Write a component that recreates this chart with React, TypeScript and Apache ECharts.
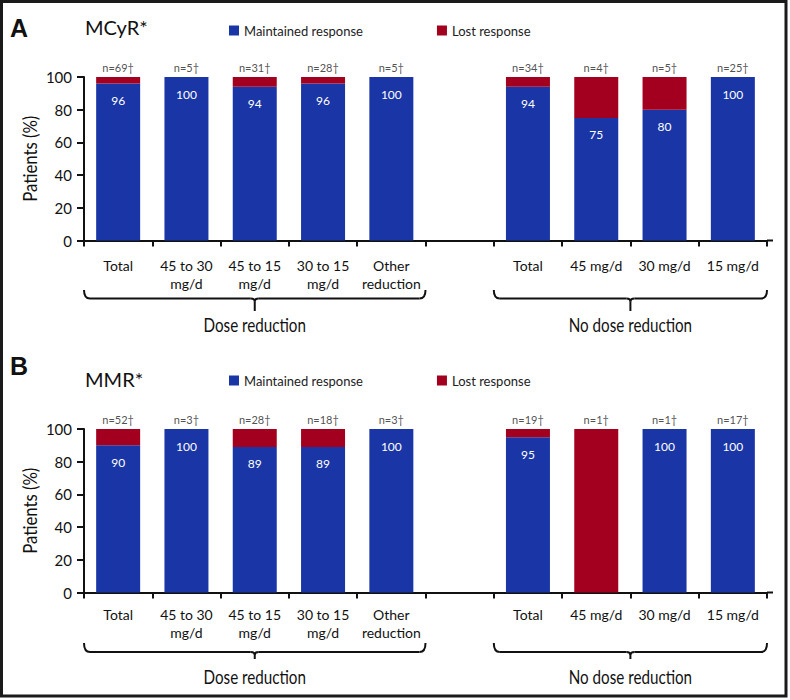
import React, { useEffect, useRef } from "react";
import * as echarts from "echarts";

const CATEGORIES = [
  "Total",
  "45 to 30\nmg/d",
  "45 to 15\nmg/d",
  "30 to 15\nmg/d",
  "Other\nreduction",
  "",
  "Total",
  "45 mg/d",
  "30 mg/d",
  "15 mg/d",
];

const A_MAINTAINED = [96, 100, 94, 96, 100, null, 94, 75, 80, 100];
const A_LOST = [4, 0, 6, 4, 0, null, 6, 25, 20, 0];
const A_N = [69, 5, 31, 28, 5, null, 34, 4, 5, 25];

const B_MAINTAINED = [90, 100, 89, 89, 100, null, 95, 0, 100, 100];
const B_LOST = [10, 0, 11, 11, 0, null, 5, 100, 0, 0];
const B_N = [52, 3, 28, 18, 3, null, 19, 1, 1, 17];

const Y_TICKS = [0, 20, 40, 60, 80, 100];

const BLUE = "#1a36a6";
const RED = "#a3001f";
const INK = "#111111";
const FONT = 'Lato, "Noto Sans", sans-serif';

function totals(m: (number | null)[], l: (number | null)[]) {
  return m.map((v, i) => (v == null ? null : (v as number) + (l[i] as number)));
}

function brace(x0: number, x1: number, axisY: number, dTop: number, dH: number, dTip: number) {
  const yTop = axisY + dTop;
  const yH = axisY + dH;
  const xm = (x0 + x1) / 2;
  const st = { stroke: INK, lineWidth: 2, fill: "none" };
  const r = 6;
  return [
    { type: "bezierCurve", shape: { x1: x0, y1: yTop, x2: x0 + r, y2: yH, cpx1: x0, cpy1: yH }, style: st },
    { type: "line", shape: { x1: x0 + r, y1: yH, x2: xm - 4, y2: yH }, style: st },
    { type: "bezierCurve", shape: { x1: xm - 4, y1: yH, x2: xm, y2: yH + 3, cpx1: xm, cpy1: yH }, style: st },
    { type: "line", shape: { x1: xm, y1: yH + 3, x2: xm, y2: yH + dTip - dH }, style: st },
    { type: "bezierCurve", shape: { x1: xm + 4, y1: yH, x2: xm, y2: yH + 3, cpx1: xm, cpy1: yH }, style: st },
    { type: "line", shape: { x1: xm + 4, y1: yH, x2: x1 - r, y2: yH }, style: st },
    { type: "bezierCurve", shape: { x1: x1 - r, y1: yH, x2: x1, y2: yTop, cpx1: x1, cpy1: yH }, style: st },
  ];
}

function makeXAxis(gridIndex: number, margin: number) {
  return {
    type: "category",
    gridIndex,
    data: CATEGORIES,
    axisLine: { show: true, lineStyle: { color: INK, width: 2 } },
    axisTick: { show: true, length: 6, alignWithLabel: false, lineStyle: { color: INK, width: 2 } },
    axisLabel: {
      interval: 0,
      margin,
      fontSize: 14,
      lineHeight: 18,
      color: INK,
      fontFamily: FONT,
    },
    splitLine: { show: false },
  };
}

function makeYAxis(gridIndex: number) {
  return {
    type: "value",
    gridIndex,
    min: Y_TICKS[0],
    max: Y_TICKS[Y_TICKS.length - 1],
    interval: 20,
    axisLine: { show: true, lineStyle: { color: INK, width: 2 } },
    axisTick: { show: true, length: 7, lineStyle: { color: INK, width: 2 } },
    axisLabel: { margin: 12, fontSize: 15, color: INK, fontFamily: FONT },
    splitLine: { show: false },
  };
}

function makeSeries(idx: number, maint: (number | null)[], lost: (number | null)[], ns: (number | null)[]) {
  const tot = totals(maint, lost);
  return [
    {
      name: "Maintained response",
      type: "bar",
      xAxisIndex: idx,
      yAxisIndex: idx,
      stack: "s" + idx,
      barWidth: 44,
      data: maint,
      itemStyle: { color: BLUE },
      label: {
        show: true,
        position: "insideTop",
        distance: 11,
        color: "#ffffff",
        fontSize: 12,
        fontFamily: FONT,
        formatter: (p: any) => (p.value > 0 ? String(p.value) : ""),
      },
    },
    {
      name: "Lost response",
      type: "bar",
      xAxisIndex: idx,
      yAxisIndex: idx,
      stack: "s" + idx,
      barWidth: 44,
      data: lost,
      itemStyle: { color: RED },
    },
    {
      name: "n" + idx,
      type: "scatter",
      xAxisIndex: idx,
      yAxisIndex: idx,
      data: tot,
      symbolSize: 1,
      itemStyle: { color: "rgba(0,0,0,0)" },
      label: {
        show: true,
        position: "top",
        distance: 4,
        color: "#222222",
        fontSize: 11,
        fontFamily: FONT,
        formatter: (p: any) => (ns[p.dataIndex] == null ? "" : "n=" + ns[p.dataIndex] + "\u2020"),
      },
    },
  ];
}

function legendAt(top: number) {
  return {
    left: 224,
    top,
    itemWidth: 10,
    itemHeight: 10,
    itemGap: 74,
    icon: "rect",
    selectedMode: false,
    textStyle: { fontSize: 13, color: "#222222", fontFamily: FONT },
    data: ["Maintained response", "Lost response"],
  };
}

export default function App() {
  const ref = useRef<HTMLDivElement>(null);
  useEffect(() => {
    document.body.style.margin = "0";
    const chart = echarts.init(ref.current as HTMLDivElement, null, { renderer: "svg" });
    chart.setOption({
      animation: false,
      backgroundColor: "#ffffff",
      grid: [
        { left: 84, top: 77, width: 683, height: 163.5 },
        { left: 84, top: 429, width: 683, height: 163.5 },
      ],
      legend: [legendAt(19), legendAt(369)],
      xAxis: [makeXAxis(0, 16), makeXAxis(1, 13)],
      yAxis: [makeYAxis(0), makeYAxis(1)],
      series: [
        ...makeSeries(0, A_MAINTAINED, A_LOST, A_N),
        ...makeSeries(1, B_MAINTAINED, B_LOST, B_N),
      ],
    });

    const cx = (i: number) => chart.convertToPixel({ xAxisIndex: 0 }, i) as number;
    const band = cx(1) - cx(0);
    const l0 = cx(0) - band / 2;
    const l1 = cx(4) + band / 2;
    const r0 = cx(6) - band / 2;
    const r1 = cx(9) + band / 2;
    const axA = chart.convertToPixel({ yAxisIndex: 0 }, 0) as number;
    const axB = chart.convertToPixel({ yAxisIndex: 1 }, 0) as number;
    const topA = chart.convertToPixel({ yAxisIndex: 0 }, 100) as number;
    const topB = chart.convertToPixel({ yAxisIndex: 1 }, 100) as number;

    const txt = (
      text: string,
      x: number,
      y: number,
      size: number,
      font: string,
      opts: { weight?: string; rot?: number; sx?: number; align?: string } = {}
    ) => ({
      type: "text",
      x,
      y,
      rotation: opts.rot || 0,
      scaleX: opts.sx || 1,
      style: {
        text,
        fill: INK,
        fontSize: size,
        fontFamily: font,
        fontWeight: opts.weight || "normal",
        align: opts.align || "center",
        verticalAlign: "middle",
      },
    });

    const BOLD = '"Liberation Sans", Arial, sans-serif';
    const elements: any[] = [
      txt("A", 19, 28, 25, BOLD, { weight: "bold" }),
      txt("B", 19, 366, 25, BOLD, { weight: "bold" }),
      txt("MCyR*", 85, 27, 20, FONT, { align: "left" }),
      txt("MMR*", 85, 379, 20, FONT, { align: "left" }),
      txt("Patients (%)", 30, (axA + topA) / 2, 19, FONT, { rot: Math.PI / 2, sx: 0.88 }),
      txt("Patients (%)", 30, (axB + topB) / 2, 19, FONT, { rot: Math.PI / 2, sx: 0.88 }),
      txt("Dose reduction", (l0 + l1) / 2, axA + 84, 19, FONT, { sx: 0.8 }),
      txt("No dose reduction", (r0 + r1) / 2, axA + 84, 19, FONT, { sx: 0.8 }),
      txt("Dose reduction", (l0 + l1) / 2, axB + 84, 19, FONT, { sx: 0.8 }),
      txt("No dose reduction", (r0 + r1) / 2, axB + 84, 19, FONT, { sx: 0.8 }),
      { type: "line", shape: { x1: r1, y1: axA, x2: r1 + 6, y2: axA }, style: { stroke: INK, lineWidth: 2 } },
      { type: "line", shape: { x1: r1, y1: axB, x2: r1 + 6, y2: axB }, style: { stroke: INK, lineWidth: 2 } },
      ...brace(l0, l1, axA, 49.5, 58, 70.5),
      ...brace(r0, r1, axA, 49.5, 58, 70.5),
      ...brace(l0, l1, axB, 50.5, 59.5, 66.5),
      ...brace(r0, r1, axB, 50.5, 59.5, 66.5),
      {
        type: "rect",
        z: 100,
        shape: { x: 1.5, y: 1.5, width: 784.5, height: 694.5 },
        style: { fill: "none", stroke: "#1a1a1a", lineWidth: 3 },
      },
    ];
    chart.setOption({ graphic: { elements } });
    return () => chart.dispose();
  }, []);
  return <div ref={ref} style={{ width: 790, height: 700 }} />;
}
